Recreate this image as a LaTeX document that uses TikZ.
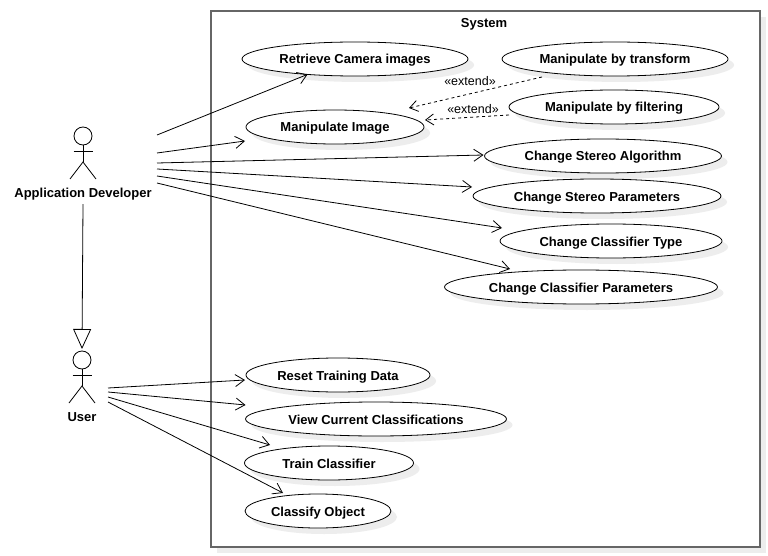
\documentclass[tikz,border=0pt]{standalone}
\usepackage{fontspec}
\setmainfont{Liberation Sans}
\usetikzlibrary{arrows.meta,shapes.geometric,shadows}
\tikzset{
    softshadow/.style = {drop shadow={shadow xshift=6pt,shadow yshift=-6pt,fill=black!7,opacity=1}},
    usecase/.style = {ellipse,draw,fill=white,line width=0.8pt,minimum height=34pt,inner sep=0pt,outer sep=0pt,
        font=\fontsize{13}{15}\selectfont\bfseries,text height=10pt,text depth=0pt,softshadow},
    actorname/.style = {font=\fontsize{13}{15}\selectfont\bfseries,text height=10pt,text depth=0pt,inner sep=1pt},
    extendname/.style = {font=\fontsize{12.5}{14}\selectfont,inner sep=0pt},
    assoc/.style = {-{Straight Barb[length=9pt,width=12pt]},line width=0.8pt},
    extendarrow/.style = {-{Straight Barb[length=8pt,width=11pt]},dashed,line width=0.8pt},
    stickman/.pic = {
        \node [circle,draw,line width=0.8pt,minimum size=18pt,inner sep=0pt,outer sep=0pt] (-head) at (0,0) {};
        \draw [line width=0.8pt] (-head.south) -- (0,26);
        \draw [line width=0.8pt] (-9.5,15) -- (9.5,15);
        \draw [line width=0.8pt] (-13,43) -- (0,26) -- (13,43);
    }
}
\begin{document}
\begin{tikzpicture}[x=1pt,y=-1pt]
    \useasboundingbox (0,0) rectangle (768,556);
    % system boundary
    \node [draw=black!60,fill=white,line width=1.6pt,minimum width=549pt,minimum height=536pt,inner sep=0pt,
        anchor=north west,softshadow] (system) at (210,10) {};
    \node [actorname] (systemname) at (484,23) {System};

    % actors
    \pic (devfig) at (83,136) {stickman};
    \node [actorname] (dev) at (83,192) {Application Developer};
    \pic (userfig) at (82,360) {stickman};
    \node [actorname] (user) at (82,416) {User};
    \coordinate (devport) at (157,160);
    \coordinate (userport) at (108,395);

    % use cases
    \node [usecase,minimum width=226pt] (retrieve) at (355,59) {Retrieve Camera images};
    \node [usecase,minimum width=226pt] (transform) at (615,59) {Manipulate by transform};
    \node [usecase,minimum width=210pt] (filter) at (614,107) {Manipulate by filtering};
    \node [usecase,minimum width=178pt] (image) at (335,127) {Manipulate Image};
    \node [usecase,minimum width=237pt] (algorithm) at (603,156) {Change Stereo Algorithm};
    \node [usecase,minimum width=248pt] (parameters) at (597,196) {Change Stereo Parameters};
    \node [usecase,minimum width=222pt] (classtype) at (611,241) {Change Classifier Type};
    \node [usecase,minimum width=273pt] (classparam) at (581,287) {Change Classifier Parameters};
    \node [usecase,minimum width=184pt] (reset) at (338,375) {Reset Training Data};
    \node [usecase,minimum width=261pt] (view) at (376,419) {View Current Classifications};
    \node [usecase,minimum width=169pt] (train) at (329,463) {Train Classifier};
    \node [usecase,minimum width=146pt] (classify) at (318,511) {Classify Object};

    % developer
    \draw [assoc] ([shift={(0,-25)}]devport) -- (retrieve.198);
    \draw [assoc] ([shift={(0,-7)}]devport) -- ([shift={(-1,14)}]image.west);
    \draw [assoc] ([shift={(0,3)}]devport) -- ([shift={(-1,-1)}]algorithm.west);
    \draw [assoc] ([shift={(0,9)}]devport) -- ([shift={(-1,-9)}]parameters.west);
    \draw [assoc] ([shift={(0,16)}]devport) -- ([shift={(2,-13)}]classtype.west);
    \draw [assoc] ([shift={(0,23)}]devport) -- ([shift={(-71,-1)}]classparam.north);

    % user
    \draw [assoc] ([shift={(0,-7)}]userport) -- ([shift={(-1,5)}]reset.west);
    \draw [assoc] ([shift={(0,-3)}]userport) -- ([shift={(0,-14)}]view.west);
    \draw [assoc] ([shift={(0,2)}]userport) -- ([shift={(-59,-1)}]train.north);
    \draw [assoc] ([shift={(0,7)}]userport) -- ([shift={(-35,-1)}]classify.north);

    % generalisation
    \draw [-{Triangle[open,length=20pt,width=18pt]},line width=0.8pt]
        ([yshift=-6pt]dev.south) -- ([yshift=2pt]userfig-head.north);

    % extends
    \draw [extendarrow] ([shift={(-73,1)}]transform.south) -- ([shift={(-15,-19)}]image.east);
    \draw [extendarrow] ([shift={(0,8)}]filter.west) -- ([shift={(1,-7)}]image.east);
    \node [extendname] (extendone) at (470,81) {«extend»};
    \node [extendname] (extendtwo) at (473,109) {«extend»};
\end{tikzpicture}
\end{document}
